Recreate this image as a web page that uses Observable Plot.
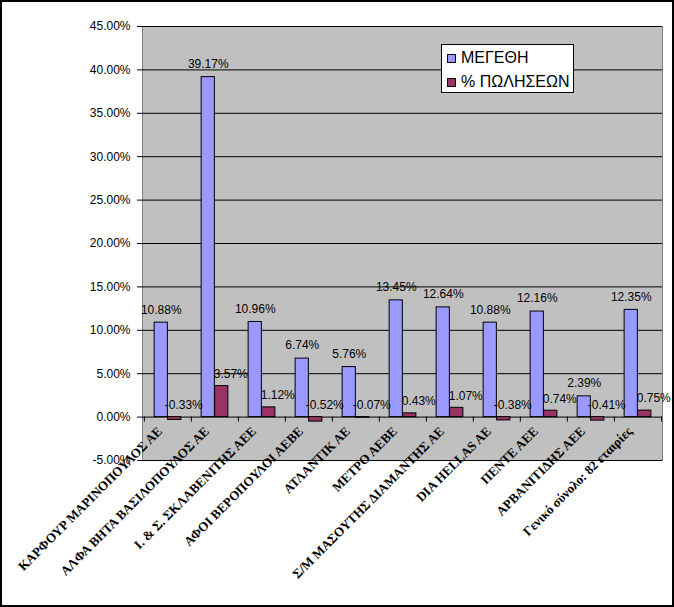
<!DOCTYPE html>
<html>
<head>
<meta charset="utf-8">
<script src="https://cdn.jsdelivr.net/npm/d3@7"></script>
<script src="https://cdn.jsdelivr.net/npm/@observablehq/plot@0.6"></script>
<style>
  body { margin: 0; background: #fff; }
  #wrap { position: relative; width: 674px; height: 607px; overflow: hidden; }
  #wrap svg { display: block; }
  #border { position: absolute; left: 0; top: 0; width: 674px; height: 607px; box-sizing: border-box; border: 2px solid #000; pointer-events: none; }
  #legend { position: absolute; left: 441px; top: 44px; width: 133px; height: 49px; box-sizing: border-box; border: 1px solid #000; background: #fff; font: 16px "Liberation Sans", Arial, sans-serif; color: #000; }
  #legend .item { position: absolute; left: 5px; height: 18px; line-height: 18px; white-space: nowrap; }
  #legend .sw { display: inline-block; width: 9px; height: 9px; box-sizing: border-box; border: 1px solid #000; margin-right: 5px; vertical-align: 0px; }
</style>
</head>
<body>
<div id="wrap">
  <div id="chart"></div>
  <div id="legend"></div>
  <div id="border"></div>
</div>
<script>
const categories = [
  "ΚΑΡΦΟΥΡ ΜΑΡΙΝΟΠΟΥΛΟΣ ΑΕ",
  "ΑΛΦΑ ΒΗΤΑ ΒΑΣΙΛΟΠΟΥΛΟΣ ΑΕ",
  "Ι. & Σ. ΣΚΛΑΒΕΝΙΤΗΣ ΑΕΕ",
  "ΑΦΟΙ ΒΕΡΟΠΟΥΛΟΙ ΑΕΒΕ",
  "ΑΤΛΑΝΤΙΚ ΑΕ",
  "ΜΕΤΡΟ ΑΕΒΕ",
  "Σ/Μ ΜΑΣΟΥΤΗΣ ΔΙΑΜΑΝΤΗΣ ΑΕ",
  "DIA HELLAS AE",
  "ΠΕΝΤΕ ΑΕΕ",
  "ΑΡΒΑΝΙΤΙΔΗΣ ΑΕΕ",
  "Γενικό σύνολο: 82 εταιρίες"
];
const seriesNames = ["ΜΕΓΕΘΗ", "% ΠΩΛΗΣΕΩΝ"];
const sizes = [10.88, 39.17, 10.96, 6.74, 5.76, 13.45, 12.64, 10.88, 12.16, 2.39, 12.35];
const salesChange = [-0.33, 3.57, 1.12, -0.52, -0.07, 0.43, 1.07, -0.38, 0.74, -0.41, 0.75];
const yTicks = [-5, 0, 5, 10, 15, 20, 25, 30, 35, 40, 45];
const colors = ["#9999ff", "#993366"];

const W = 674, H = 607, mL = 142, mR = 12, mT = 26, mB = 147;
const bw = (W - mL - mR) / categories.length;
const barW = bw / 3.5;
const gap = barW * 0.75;
const pxPerUnit = (H - mT - mB) / (yTicks[yTicks.length - 1] - yTicks[0]);
const tickLen = 5 / pxPerUnit;

const rows = categories.map((c, i) => ({cat: c, size: sizes[i], sales: salesChange[i]}));
const fmt = v => v.toFixed(2) + "%";

const chart = Plot.plot({
  width: W, height: H,
  marginLeft: mL, marginRight: mR, marginTop: mT, marginBottom: mB,
  style: {background: "transparent", fontFamily: "'Liberation Sans', Arial, sans-serif", fontSize: "12px", color: "#000"},
  x: {domain: categories, axis: null, padding: 0},
  y: {domain: [yTicks[0], yTicks[yTicks.length - 1]], ticks: yTicks, tickFormat: fmt, tickSize: 5, tickPadding: 7, line: true, label: null},
  marks: [
    Plot.frame({fill: "#c0c0c0", stroke: "#808080"}),
    Plot.ruleY(yTicks, {stroke: "#000"}),
    Plot.barY(rows, {x: "cat", y: "size", fill: colors[0], stroke: "#000", insetLeft: gap, insetRight: gap + barW}),
    Plot.barY(rows, {x: "cat", y: "sales", fill: colors[1], stroke: "#000", insetLeft: gap + barW, insetRight: gap}),
    Plot.ruleX(categories, {x: d => d, y1: () => 0, y2: () => -tickLen, dx: -bw / 2, stroke: "#000"}),
    Plot.ruleX(categories.slice(-1), {x: d => d, y1: () => 0, y2: () => -tickLen, dx: bw / 2, stroke: "#000"}),
    Plot.text(rows, {x: "cat", y: "size", text: d => fmt(d.size), dx: -barW / 2, dy: -13, fill: "#000", fontSize: 12}),
    Plot.text(rows, {x: "cat", y: d => Math.max(d.sales, 0), text: d => fmt(d.sales), dx: barW / 2 + 9, dy: -12, fill: "#000", fontSize: 12}),
    Plot.text(categories, {x: d => d, y: () => 0, text: d => d, rotate: -45, textAnchor: "end", dx: -8, dy: 12,
      fontFamily: "'Liberation Serif', 'Times New Roman', serif", fontWeight: "bold", fontSize: 13, fill: "#000"})
  ]
});
document.getElementById("chart").appendChild(chart);

const legend = document.getElementById("legend");
seriesNames.forEach((name, i) => {
  const item = document.createElement("div");
  item.className = "item";
  item.style.top = (4 + i * 24) + "px";
  const sw = document.createElement("span");
  sw.className = "sw";
  sw.style.background = colors[i];
  item.appendChild(sw);
  item.appendChild(document.createTextNode(name));
  legend.appendChild(item);
});
</script>
</body>
</html>
